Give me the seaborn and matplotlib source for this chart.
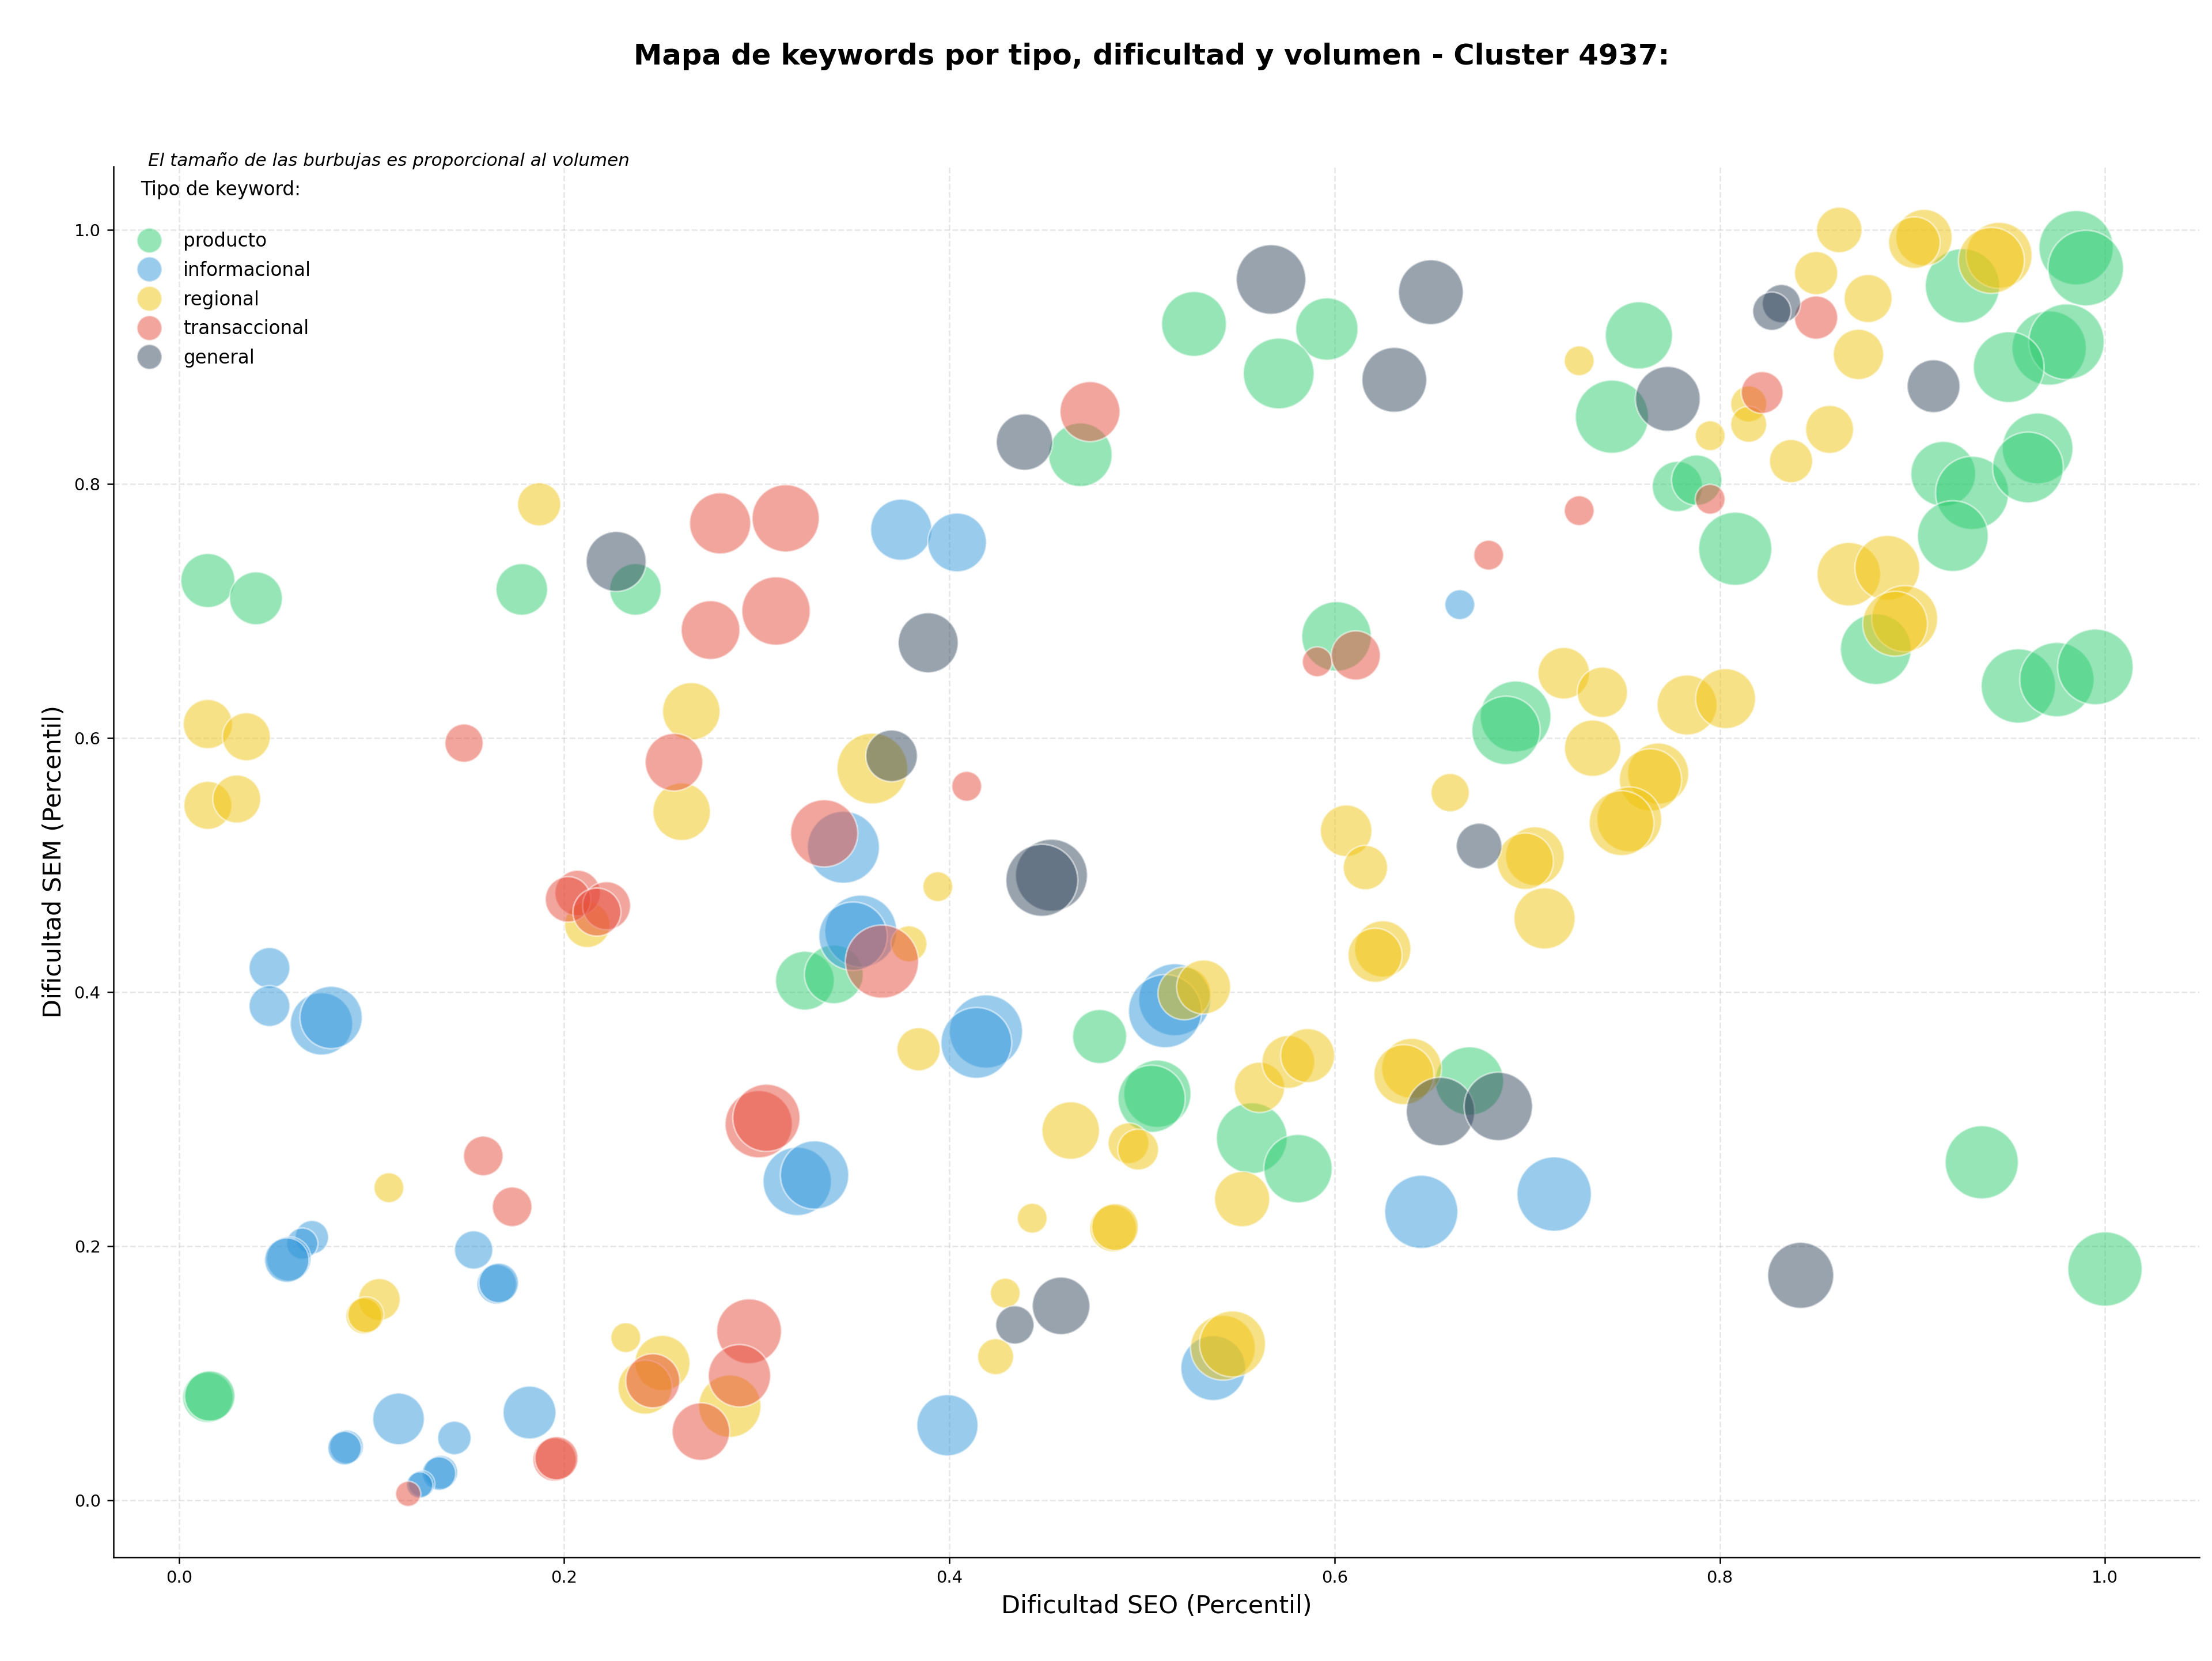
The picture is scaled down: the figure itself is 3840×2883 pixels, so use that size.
import numpy as np
import pandas as pd
import matplotlib
matplotlib.use("Agg")
import matplotlib.pyplot as plt
import seaborn as sns
from matplotlib.lines import Line2D

tipos = ["producto", "informacional", "regional", "transaccional", "general"]
colores = ["#2ecc71", "#3498db", "#f1c40f", "#e74c3c", "#34495e"]

producto_x = [0.015, 0.040, 0.178, 0.237, 0.527, 0.596, 0.571, 0.468, 0.601, 0.694, 0.689, 0.985, 0.990, 0.926, 0.971,
              0.980, 0.950, 0.758, 0.744, 0.778, 0.788, 0.808, 0.916, 0.931, 0.965, 0.960, 0.921, 0.881, 0.955, 0.975,
              0.995, 0.325, 0.340, 0.015, 0.016, 0.478, 0.508, 0.505, 0.557, 0.581, 0.670, 0.936, 1.000]
producto_y = [0.724, 0.710, 0.717, 0.717, 0.926, 0.922, 0.887, 0.823, 0.680, 0.617, 0.606, 0.986, 0.970, 0.956, 0.907,
              0.912, 0.892, 0.917, 0.853, 0.798, 0.803, 0.749, 0.808, 0.793, 0.828, 0.813, 0.759, 0.670, 0.641, 0.646,
              0.656, 0.409, 0.414, 0.081, 0.082, 0.365, 0.320, 0.316, 0.285, 0.261, 0.330, 0.266, 0.182]
producto_vol = [2030, 1940, 1850, 1850, 2920, 2700, 3480, 2810, 3360, 3480, 3250, 3840, 3970, 3840, 3840,
                3970, 3480, 3140, 3720, 1760, 1760, 3720, 2920, 3720, 3480, 3480, 3480, 3480, 3840, 3840,
                3970, 2400, 2400, 1760, 1760, 2030, 3140, 3140, 3480, 3250, 3250, 3720, 3840]

informacional_x = [0.375, 0.404, 0.665, 0.345, 0.047, 0.047, 0.074, 0.079, 0.321, 0.330, 0.069, 0.064, 0.057, 0.056,
                   0.153, 0.165, 0.166, 0.114, 0.087, 0.086, 0.143, 0.136, 0.135, 0.126, 0.125, 0.182, 0.354, 0.350,
                   0.419, 0.414, 0.517, 0.512, 0.645, 0.399, 0.537, 0.714]
informacional_y = [0.764, 0.754, 0.705, 0.514, 0.419, 0.389, 0.375, 0.380, 0.251, 0.256, 0.207, 0.202, 0.190, 0.189,
                   0.197, 0.170, 0.171, 0.064, 0.042, 0.041, 0.049, 0.022, 0.021, 0.013, 0.012, 0.069, 0.448, 0.444,
                   0.369, 0.360, 0.394, 0.385, 0.227, 0.059, 0.104, 0.241]
informacional_vol = [2600, 2400, 620, 3600, 1160, 1160, 2700, 2700, 3250, 3250, 780, 680, 1370, 1370,
                     1020, 1090, 1090, 1850, 780, 780, 780, 780, 780, 480, 480, 1940, 3600, 3250,
                     3720, 3480, 3600, 3720, 3720, 2600, 2920, 3840]

regional_x = [0.187, 0.266, 0.261, 0.015, 0.035, 0.015, 0.030, 0.360, 0.660, 0.606, 0.862, 0.906, 0.901, 0.945, 0.941,
              0.850, 0.877, 0.872, 0.727, 0.815, 0.815, 0.795, 0.857, 0.837, 0.867, 0.887, 0.896, 0.891, 0.719, 0.739,
              0.783, 0.803, 0.734, 0.768, 0.764, 0.753, 0.749, 0.212, 0.109, 0.104, 0.096, 0.097, 0.232, 0.251, 0.242,
              0.286, 0.394, 0.379, 0.384, 0.522, 0.532, 0.463, 0.493, 0.498, 0.443, 0.485, 0.486, 0.552, 0.561, 0.576,
              0.586, 0.616, 0.625, 0.621, 0.640, 0.636, 0.429, 0.424, 0.542, 0.547, 0.704, 0.699, 0.709]
regional_y = [0.784, 0.621, 0.542, 0.611, 0.601, 0.547, 0.552, 0.576, 0.557, 0.527, 1.000, 0.994, 0.990, 0.980, 0.976,
              0.966, 0.946, 0.902, 0.897, 0.863, 0.847, 0.838, 0.843, 0.818, 0.729, 0.734, 0.694, 0.690, 0.651, 0.636,
              0.626, 0.631, 0.592, 0.572, 0.567, 0.536, 0.533, 0.453, 0.246, 0.158, 0.145, 0.146, 0.128, 0.108, 0.089,
              0.074, 0.483, 0.438, 0.355, 0.399, 0.404, 0.291, 0.281, 0.276, 0.222, 0.214, 0.215, 0.237, 0.325, 0.345,
              0.350, 0.498, 0.434, 0.429, 0.340, 0.335, 0.163, 0.113, 0.120, 0.123, 0.507, 0.503, 0.458]
regional_vol = [1300, 2300, 2300, 1680, 1600, 1600, 1600, 3480, 1020, 1850, 1440, 2210, 1850, 3030, 3030,
                1300, 1600, 1760, 620, 900, 900, 620, 1600, 1300, 2810, 2920, 3030, 2920, 1850, 1760,
                2500, 2500, 2210, 2600, 2700, 2920, 2920, 1440, 620, 1220, 900, 900, 620, 2120, 2030,
                2700, 620, 900, 1300, 1940, 2030, 2300, 1160, 1160, 620, 1520, 1520, 2120, 1760, 1940,
                2030, 1370, 2210, 2030, 2500, 2500, 620, 900, 2920, 3030, 2400, 2210, 2600]

transaccional_x = [0.281, 0.315, 0.310, 0.276, 0.148, 0.257, 0.473, 0.680, 0.591, 0.611, 0.409, 0.335, 0.850, 0.822,
                   0.795, 0.727, 0.207, 0.202, 0.222, 0.217, 0.301, 0.305, 0.158, 0.173, 0.119, 0.195, 0.196, 0.246,
                   0.296, 0.291, 0.271, 0.365]
transaccional_y = [0.769, 0.773, 0.700, 0.685, 0.596, 0.581, 0.857, 0.744, 0.660, 0.665, 0.562, 0.525, 0.931, 0.872,
                   0.788, 0.779, 0.478, 0.473, 0.468, 0.463, 0.296, 0.301, 0.271, 0.231, 0.005, 0.032, 0.033, 0.094,
                   0.133, 0.098, 0.054, 0.424]
transaccional_vol = [2600, 3140, 3250, 2400, 1020, 2300, 2500, 620, 620, 1680, 620, 3140, 1300, 1220,
                     620, 620, 1440, 1440, 1600, 1600, 3140, 3140, 1090, 1090, 440, 1300, 1300, 2030,
                     2920, 2700, 2300, 3720]

general_x = [0.227, 0.567, 0.650, 0.631, 0.439, 0.389, 0.370, 0.675, 0.832, 0.827, 0.911, 0.773, 0.453, 0.448,
             0.655, 0.685, 0.458, 0.434, 0.842]
general_y = [0.739, 0.961, 0.951, 0.882, 0.833, 0.675, 0.586, 0.515, 0.942, 0.936, 0.877, 0.867, 0.492, 0.488,
             0.306, 0.310, 0.153, 0.138, 0.177]
general_vol = [2500, 3360, 2920, 2920, 2210, 2500, 1850, 1440, 1020, 1020, 1940, 2920, 3600, 3600,
               3250, 3250, 2300, 1020, 3030]

series = {
    "producto": (producto_x, producto_y, producto_vol),
    "informacional": (informacional_x, informacional_y, informacional_vol),
    "regional": (regional_x, regional_y, regional_vol),
    "transaccional": (transaccional_x, transaccional_y, transaccional_vol),
    "general": (general_x, general_y, general_vol),
}
frames = []
for t in tipos:
    xs, ys, vs = series[t]
    frames.append(pd.DataFrame({"seo": xs, "sem": ys, "volumen": vs, "tipo": t}))
df = pd.concat(frames, ignore_index=True)

fig = plt.figure(figsize=(16, 12.0125), dpi=240)
ax = fig.add_axes([0.0513, 0.0624, 0.9430, 0.8374])

palette = dict(zip(tipos, colores))
sns.scatterplot(data=df, x="seo", y="sem", hue="tipo", hue_order=tipos, palette=palette,
                size="volumen", sizes=(0, 1560), size_norm=(0, 4000),
                alpha=0.5, edgecolor="white", linewidth=0.9, legend=False, ax=ax)

ax.set_xlim(-0.034, 1.049)
ax.set_ylim(-0.045, 1.05)
ax.set_xticks([0.0, 0.2, 0.4, 0.6, 0.8, 1.0])
ax.set_yticks([0.0, 0.2, 0.4, 0.6, 0.8, 1.0])
ax.tick_params(labelsize=8.7, length=3.2, width=0.75)
ax.grid(True, linestyle="--", alpha=0.3)
ax.set_axisbelow(True)
for sp in ["top", "right"]:
    ax.spines[sp].set_visible(False)
for sp in ["left", "bottom"]:
    ax.spines[sp].set_linewidth(0.75)

ax.set_xlabel("Dificultad SEO (Percentil)", fontsize=12.9)
ax.set_ylabel("Dificultad SEM (Percentil)", fontsize=12.9)

ax.text(0.4976, 1.079, "Mapa de keywords por tipo, dificultad y volumen - Cluster 4937:",
        transform=ax.transAxes, ha="center", va="center", fontsize=14.9, fontweight="bold")

ax.text(0.0166, 1.004, "El tamaño de las burbujas es proporcional al volumen",
        transform=ax.transAxes, ha="left", va="center", fontsize=9.3, style="italic")

handles = [Line2D([], [], marker="o", linestyle="", markerfacecolor=c, markeredgecolor="white",
                  markeredgewidth=0.9, alpha=0.5, markersize=13) for c in colores]
leg = ax.legend(handles, tipos, title="Tipo de keyword:\n", loc="upper left", frameon=False,
                fontsize=9.8, title_fontsize=9.8, labelspacing=0.54,
                bbox_to_anchor=(0.0, 1.002))

fig.savefig("out.png", dpi=240)
